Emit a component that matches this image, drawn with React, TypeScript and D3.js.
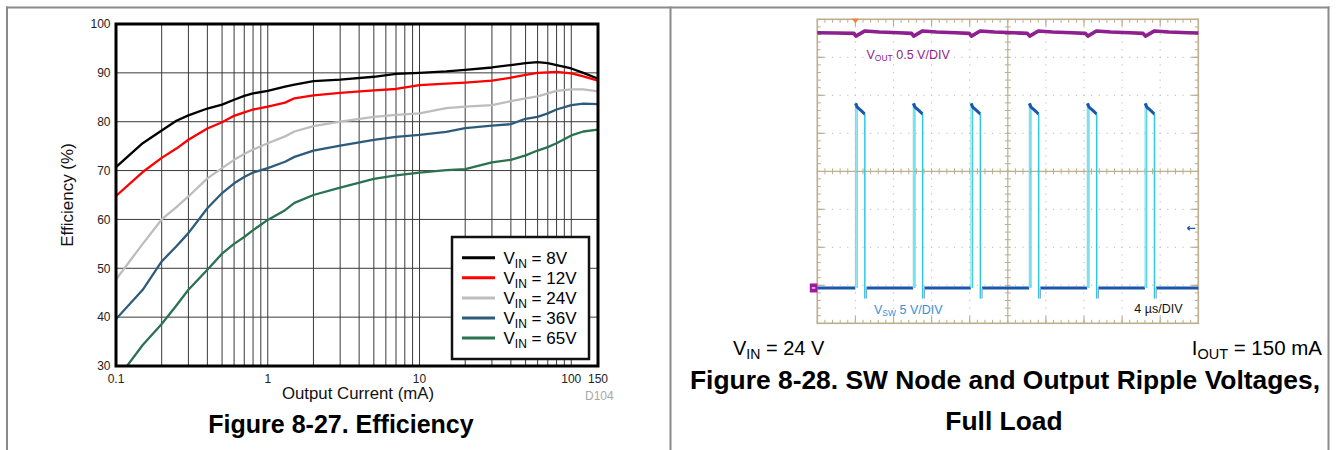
import React from 'react';
import * as d3 from 'd3';

// ---------- Efficiency chart data ----------
const currents = [0.1, 0.15, 0.2, 0.25, 0.3, 0.4, 0.5, 0.6, 0.7, 0.8, 1, 1.3, 1.5, 2, 3, 5, 7, 10, 15, 20, 30, 40, 50, 60, 70, 80, 100, 120, 150];
const eff8V = [70.7, 75.6, 78.2, 80.2, 81.3, 82.7, 83.5, 84.5, 85.3, 85.8, 86.3, 87.2, 87.6, 88.3, 88.6, 89.2, 89.8, 90.0, 90.3, 90.6, 91.1, 91.6, 92.0, 92.2, 92.0, 91.6, 90.9, 90.0, 88.8];
const eff12V = [64.8, 69.7, 72.6, 74.5, 76.3, 78.6, 79.9, 81.2, 81.9, 82.5, 83.1, 83.9, 84.8, 85.4, 85.9, 86.4, 86.7, 87.5, 87.8, 88.0, 88.4, 89.0, 89.6, 90.0, 90.1, 90.2, 89.9, 89.3, 88.4];
const eff24V = [47.7, 55.0, 60.0, 62.5, 64.7, 68.4, 70.5, 72.2, 73.4, 74.3, 75.6, 77.0, 78.0, 79.1, 80.0, 81.0, 81.4, 81.7, 82.8, 83.1, 83.4, 84.2, 84.8, 85.2, 85.8, 86.3, 86.6, 86.6, 86.2];
const eff36V = [39.6, 45.6, 51.4, 54.5, 57.2, 62.3, 65.4, 67.4, 68.7, 69.6, 70.5, 71.8, 72.8, 74.1, 75.1, 76.3, 76.9, 77.3, 77.9, 78.7, 79.2, 79.5, 80.6, 81.0, 81.7, 82.5, 83.4, 83.7, 83.6];
const eff65V = [27.0, 34.3, 38.6, 42.4, 45.6, 49.7, 53.0, 55.0, 56.4, 57.8, 59.9, 61.9, 63.4, 65.0, 66.5, 68.3, 69.0, 69.6, 70.1, 70.3, 71.7, 72.2, 73.1, 74.1, 74.8, 75.6, 77.2, 78.0, 78.4];
const seriesVin = ['8V', '12V', '24V', '36V', '65V'];
const seriesValues = [eff8V, eff12V, eff24V, eff36V, eff65V];
const seriesColors = ['#000000', '#ff0000', '#bdbdbd', '#2d5c7b', '#2a7251'];
const yTickValues = [30, 40, 50, 60, 70, 80, 90, 100];
const xTickValues = [0.1, 1, 10, 100, 150];

// ---------- Scope data ----------
const swRise = [4.01, 10.08, 16.14, 22.26, 28.35, 34.42]; // us
const swFall = [4.99, 11.06, 17.12, 23.24, 29.33, 35.4]; // us
const swTopFrac = [0, 0.18, 0.46, 0.64, 0.93, 1];
const swTopV = [24.3, 23.8, 23.5, 23.3, 22.95, 22.9];
const swSpikeV = -1.4;
const voutT = [0, 2.0, 3.85, 4.05, 5.0, 6.5, 8.5, 9.9, 10.12, 11.05, 12.5, 14.5, 15.95, 16.18, 17.1, 18.6, 20.6, 22.05, 22.3, 23.2, 24.7, 26.7, 28.15, 28.4, 29.3, 30.8, 32.8, 34.2, 34.45, 35.4, 36.9, 38.9, 40];
const voutMv = [8, 5, 0, -36, 32, 18, 8, 0, -36, 32, 18, 8, 0, -36, 32, 18, 8, 0, -36, 32, 18, 8, 0, -36, 32, 18, 8, 0, -36, 32, 18, 8, 4];
const ch1OffsetDiv = 3.63;
const ch2OffsetDiv = -3.07;
const ch1VoltsPerDiv = 0.5;
const ch2VoltsPerDiv = 5;
const triggerT = 4.0;

const FONT = "'Liberation Sans', Arial, Helvetica, sans-serif";

function EfficiencyChart() {
  const L = 116, R = 598, T = 24, B = 366;
  const x = d3.scaleLog().domain([0.1, 150]).range([L, R]);
  const y = d3.scaleLinear().domain([30, 100]).range([B, T]);
  const gridX = x.ticks().filter((v) => v > 0.1 && v < 150);
  const line = d3.line<[number, number]>().x((d) => x(d[0])).y((d) => y(d[1]));
  return (
    <g fontFamily={FONT}>
      <defs>
        <clipPath id="plotClip">
          <rect x={L} y={T} width={R - L} height={B - T} />
        </clipPath>
      </defs>
      {gridX.map((v) => (
        <line key={'gx' + v} x1={x(v)} x2={x(v)} y1={T} y2={B} stroke="#3a3a3a" strokeWidth={1} />
      ))}
      {yTickValues.filter((v) => v > 30 && v < 100).map((v) => (
        <line key={'gy' + v} x1={L} x2={R} y1={y(v)} y2={y(v)} stroke="#3a3a3a" strokeWidth={1} />
      ))}
      <g clipPath="url(#plotClip)">
        {seriesValues.map((vals, i) => (
          <path key={'s' + i} d={line(currents.map((c, j) => [c, vals[j]]))!} fill="none" stroke={seriesColors[i]} strokeWidth={2.3} strokeLinejoin="round" />
        ))}
      </g>
      <rect x={L} y={T} width={R - L} height={B - T} fill="none" stroke="#000" strokeWidth={3} />
      {yTickValues.map((v) => (
        <text key={'yt' + v} x={110.5} y={y(v) + 4.3} fontSize={12} textAnchor="end" fill="#222">{v}</text>
      ))}
      {xTickValues.map((v) => (
        <text key={'xt' + v} x={x(v)} y={382.5} fontSize={12} textAnchor="middle" fill="#222">{v}</text>
      ))}
      <text x={358} y={399} fontSize={16.8} textAnchor="middle" fill="#111">Output Current (mA)</text>
      <text transform={`translate(73,195) rotate(-90)`} fontSize={17} textAnchor="middle" fill="#111">Efficiency (%)</text>
      <text x={585} y={400} fontSize={12} fill="#a8a8a8">D104</text>
      {/* legend */}
      <rect x={452} y={237} width={137} height={122} fill="#fff" stroke="#111" strokeWidth={2.5} />
      {seriesVin.map((name, i) => {
        const ly = 257.7 + i * 20.1;
        return (
          <g key={'lg' + i}>
            <line x1={462} x2={495} y1={ly} y2={ly} stroke={seriesColors[i]} strokeWidth={3} />
            <text x={503.5} y={ly + 5.8} fontSize={17} fill="#000">
              V<tspan fontSize={12} dy={4}>IN</tspan><tspan dy={-4}>{' = ' + name}</tspan>
            </text>
          </g>
        );
      })}
      <text x={341} y={433} fontSize={25} fontWeight="bold" textAnchor="middle" fill="#000">Figure 8-27. Efficiency</text>
    </g>
  );
}

function ScopeChart() {
  const X0 = 817.3, X1 = 1198.3, Y0 = 19.3, Y1 = 323.3;
  const xs = d3.scaleLinear().domain([0, 40]).range([X0, X1]);
  const ys = d3.scaleLinear().domain([-4, 4]).range([Y1, Y0]);
  const tan = '#bcae8e';
  const minorX = d3.range(0, 51).map((i) => i * 0.8);
  const minorY = d3.range(0, 41).map((i) => -4 + i * 0.2);
  const majorX = d3.range(1, 10).map((i) => i * 4).filter((t) => t !== 20);
  const majorY = d3.range(-3, 4).filter((d) => d !== 0);
  const cx = xs(20), cy = ys(0);
  const sw = (v: number) => ys(ch2OffsetDiv + v / ch2VoltsPerDiv);
  const vo = (mv: number) => ys(ch1OffsetDiv + mv / 1000 / ch1VoltsPerDiv);
  const voutLine = d3.line<number>().x((_, i) => xs(voutT[i])).y((d) => vo(d));
  const topLine = d3.line<[number, number]>().x((d) => xs(d[0])).y((d) => sw(d[1]));
  const lowSegs: [number, number][] = [];
  lowSegs.push([0, swRise[0] - 0.02]);
  swFall.forEach((f, i) => {
    const next = i + 1 < swRise.length ? swRise[i + 1] - 0.02 : 40;
    lowSegs.push([f + 0.18, next]);
  });
  return (
    <g fontFamily={FONT}>
      {majorX.map((t) => minorY.map((d) => (
        <rect key={`dx${t}_${d}`} x={xs(t) - 0.6} y={ys(d) - 0.6} width={1.2} height={1.2} fill="#c4c4c4" />
      )))}
      {majorY.map((d) => minorX.map((t) => (
        <rect key={`dy${d}_${t}`} x={xs(t) - 0.6} y={ys(d) - 0.6} width={1.2} height={1.2} fill="#c4c4c4" />
      )))}
      <line x1={cx} x2={cx} y1={Y0} y2={Y1} stroke={tan} strokeWidth={1.2} />
      <line x1={X0} x2={X1} y1={cy} y2={cy} stroke={tan} strokeWidth={1.2} />
      {minorX.map((t) => (
        <g key={'mx' + t}>
          <line x1={xs(t)} x2={xs(t)} y1={Y0} y2={Y0 + 3.5} stroke={tan} strokeWidth={1} />
          <line x1={xs(t)} x2={xs(t)} y1={Y1} y2={Y1 - 3.5} stroke={tan} strokeWidth={1} />
          <line x1={xs(t)} x2={xs(t)} y1={cy - 3} y2={cy + 3} stroke={tan} strokeWidth={1} />
        </g>
      ))}
      {minorY.map((d) => (
        <g key={'my' + d}>
          <line x1={X0} x2={X0 + 3.5} y1={ys(d)} y2={ys(d)} stroke={tan} strokeWidth={1} />
          <line x1={X1} x2={X1 - 3.5} y1={ys(d)} y2={ys(d)} stroke={tan} strokeWidth={1} />
          <line x1={cx - 3} x2={cx + 3} y1={ys(d)} y2={ys(d)} stroke={tan} strokeWidth={1} />
        </g>
      ))}
      {majorY.map((d) => (
        <g key={'My' + d}>
          <line x1={X0} x2={X0 + 7} y1={ys(d)} y2={ys(d)} stroke={tan} strokeWidth={1.2} />
          <line x1={X1} x2={X1 - 7} y1={ys(d)} y2={ys(d)} stroke={tan} strokeWidth={1.2} />
        </g>
      ))}
      {majorX.map((t) => (
        <g key={'Mx' + t}>
          <line x1={xs(t)} x2={xs(t)} y1={Y0} y2={Y0 + 7} stroke={tan} strokeWidth={1.2} />
          <line x1={xs(t)} x2={xs(t)} y1={Y1} y2={Y1 - 7} stroke={tan} strokeWidth={1.2} />
        </g>
      ))}
      <rect x={X0} y={Y0} width={X1 - X0} height={Y1 - Y0} fill="none" stroke={tan} strokeWidth={1.6} />

      {lowSegs.map((s, i) => (
        <line key={'low' + i} x1={xs(s[0])} x2={xs(s[1])} y1={sw(0)} y2={sw(0)} stroke="#1a56ad" strokeWidth={3} />
      ))}
      {swRise.map((r, i) => {
        const f = swFall[i];
        const pts: [number, number][] = swTopFrac.map((fr, k) => [r + fr * (f - r), swTopV[k]]);
        return (
          <g key={'p' + i}>
            <line x1={xs(r)} x2={xs(r)} y1={sw(0)} y2={sw(swTopV[0])} stroke="#7fdbe6" strokeWidth={1.2} />
            <line x1={xs(r) + 1.6} x2={xs(r) + 1.6} y1={sw(0)} y2={sw(swTopV[0])} stroke="#3fcfe0" strokeWidth={1.2} />
            <line x1={xs(f)} x2={xs(f)} y1={sw(swTopV[swTopV.length - 1])} y2={sw(swSpikeV)} stroke="#2ec9de" strokeWidth={1.5} />
            <line x1={xs(f + 0.18)} x2={xs(f + 0.18)} y1={sw(0)} y2={sw(swSpikeV)} stroke="#7fa8e0" strokeWidth={1.2} />
            <path d={topLine(pts)!} fill="none" stroke="#1a56ad" strokeWidth={3} strokeLinejoin="round" />
          </g>
        );
      })}

      <path d={voutLine(voutMv)!} fill="none" stroke="#8e1f8e" strokeWidth={3.6} strokeLinejoin="round" />

      <path d={`M${xs(triggerT) - 3.5},${Y0 - 0.5} L${xs(triggerT) + 3.5},${Y0 - 0.5} L${xs(triggerT)},${Y0 + 4} Z`} fill="#ff7a2a" />
      <rect x={X0 - 7.5} y={sw(0) - 4.5} width={7.5} height={9} fill="#a0169e" />
      <line x1={X0 - 5.5} x2={X0 - 2} y1={sw(0)} y2={sw(0)} stroke="#fff" strokeWidth={1.2} />
      <path d={`M${X1 - 11},${ys(-1.5)} L${X1 - 3},${ys(-1.5)} M${X1 - 11},${ys(-1.5)} L${X1 - 8.5},${ys(-1.5) - 2} M${X1 - 11},${ys(-1.5)} L${X1 - 8.5},${ys(-1.5) + 2}`} stroke="#1a56ad" strokeWidth={1.2} fill="none" />

      <text x={866.5} y={59} fontSize={12.5} fill="#8e1f8e">
        V<tspan fontSize={8.5} dy={1.5}>OUT</tspan><tspan dy={-1.5}> 0.5 V/DIV</tspan>
      </text>
      <text x={874} y={314} fontSize={12.5} fill="#3a8fd4">
        V<tspan fontSize={8.5} dy={1.5}>SW</tspan><tspan dy={-1.5}> 5 V/DIV</tspan>
      </text>
      <text x={1182.5} y={312.5} fontSize={12.5} textAnchor="end" fill="#111">4 µs/DIV</text>

      <text x={733} y={355} fontSize={20} fill="#000">
        V<tspan fontSize={14} dy={4}>IN</tspan><tspan dy={-4}> = 24 V</tspan>
      </text>
      <text x={1322} y={355} fontSize={20.5} textAnchor="end" fill="#000">
        I<tspan fontSize={14.5} dy={4}>OUT</tspan><tspan dy={-4}> = 150 mA</tspan>
      </text>
      <text x={1005} y={388.5} fontSize={26.4} fontWeight="bold" textAnchor="middle" fill="#000">Figure 8-28. SW Node and Output Ripple Voltages,</text>
      <text x={1004} y={430} fontSize={26.4} fontWeight="bold" textAnchor="middle" fill="#000">Full Load</text>
    </g>
  );
}

export default function App() {
  return (
    <div style={{ position: 'absolute', left: 0, top: 0, width: 1336, height: 450, background: '#fff' }}>
      <svg width={1336} height={450} viewBox="0 0 1336 450" style={{ display: 'block' }}>
        <rect x={0} y={0} width={1336} height={450} fill="#fff" />
        <line x1={6} x2={1329.5} y1={7.5} y2={7.5} stroke="#8a8a8a" strokeWidth={2} />
        <line x1={7} x2={7} y1={6.5} y2={450} stroke="#8a8a8a" strokeWidth={2} />
        <line x1={670.5} x2={670.5} y1={6.5} y2={450} stroke="#8a8a8a" strokeWidth={2} />
        <line x1={1328.5} x2={1328.5} y1={6.5} y2={450} stroke="#8a8a8a" strokeWidth={2} />
        <EfficiencyChart />
        <ScopeChart />
      </svg>
    </div>
  );
}
